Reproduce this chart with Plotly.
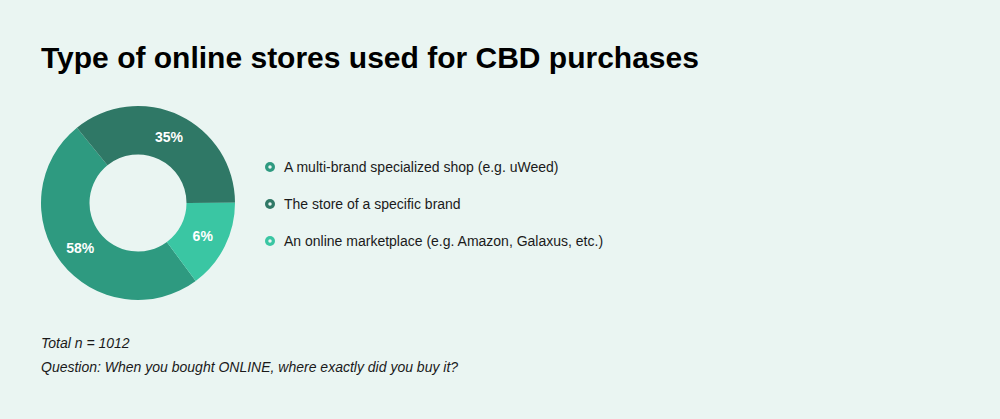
import plotly.graph_objects as go

# -----------------------------
# Data
# -----------------------------
categories = [
    "A multi-brand specialized shop (e.g. uWeed)",
    "The store of a specific brand",
    "An online marketplace (e.g. Amazon, Galaxus, etc.)",
]
# slice sizes as drawn in the reference
shares = [49.3, 35.8, 14.9]
# percentages printed on the slices
pct_labels = ["58%", "35%", "6%"]
colors = ["#2e9a80", "#2f7866", "#3ac6a3"]

title = "Type of online stores used for CBD purchases"
notes = ["Total n = 1012", "Question: When you bought ONLINE, where exactly did you buy it?"]

W, H = 1000, 419
BG = "#eaf5f2"
FONT = "Liberation Sans, Arial, Helvetica, sans-serif"

fig = go.Figure()

# -----------------------------
# Donut
# -----------------------------
fig.add_trace(go.Pie(
    labels=categories,
    values=shares,
    text=pct_labels,
    textinfo="text",
    textposition="inside",
    insidetextorientation="horizontal",
    textfont=dict(family=FONT, size=14, color="white", weight="bold"),
    marker=dict(colors=colors, line=dict(width=0)),
    hole=0.5,
    sort=False,
    direction="clockwise",
    rotation=143.5,
    domain=dict(x=[41 / W, 235 / W], y=[1 - 300 / H, 1 - 106 / H]),
    showlegend=False,
    hoverinfo="label+text",
))

# -----------------------------
# Custom legend (ring markers)
# -----------------------------
rows = list(range(len(categories)))
fig.add_trace(go.Scatter(
    x=[0] * len(rows), y=rows, mode="markers",
    marker=dict(color=colors, size=10, line=dict(width=0)),
    showlegend=False, hoverinfo="skip",
))
fig.add_trace(go.Scatter(
    x=[0] * len(rows), y=rows, mode="markers",
    marker=dict(color=BG, size=3.5, line=dict(width=0)),
    showlegend=False, hoverinfo="skip",
))

annotations = []
for i, cat in enumerate(categories):
    annotations.append(dict(
        x=12, y=i, xref="x", yref="y", text=cat, showarrow=False,
        xanchor="left", yanchor="middle",
        font=dict(family=FONT, size=14, color="#1a1a1a"),
    ))

annotations.append(dict(
    x=39 / W, y=1 - 57 / H, xref="paper", yref="paper", text=f"<b>{title}</b>",
    showarrow=False, xanchor="left", yanchor="middle",
    font=dict(family=FONT, size=30, color="#000000"),
))
for j, note in enumerate(notes):
    annotations.append(dict(
        x=39 / W, y=1 - (343 + 24 * j) / H, xref="paper", yref="paper",
        text=f"<i>{note}</i>", showarrow=False, xanchor="left", yanchor="middle",
        font=dict(family=FONT, size=14, color="#1a1a1a"),
    ))

fig.update_layout(
    width=W, height=H,
    margin=dict(l=0, r=0, t=0, b=0),
    paper_bgcolor=BG, plot_bgcolor=BG,
    xaxis=dict(domain=[265 / W, 765 / W], range=[-5, 495], visible=False, fixedrange=True),
    yaxis=dict(domain=[1 - 259.5 / H, 1 - 148.5 / H], range=[2.5, -0.5], visible=False, fixedrange=True),
    annotations=annotations,
)

# drop the page's default body margin so the chart sits at the window origin
fig.write_html(
    "out.html",
    config={"displayModeBar": False},
    post_script="document.body.style.margin='0';",
)
